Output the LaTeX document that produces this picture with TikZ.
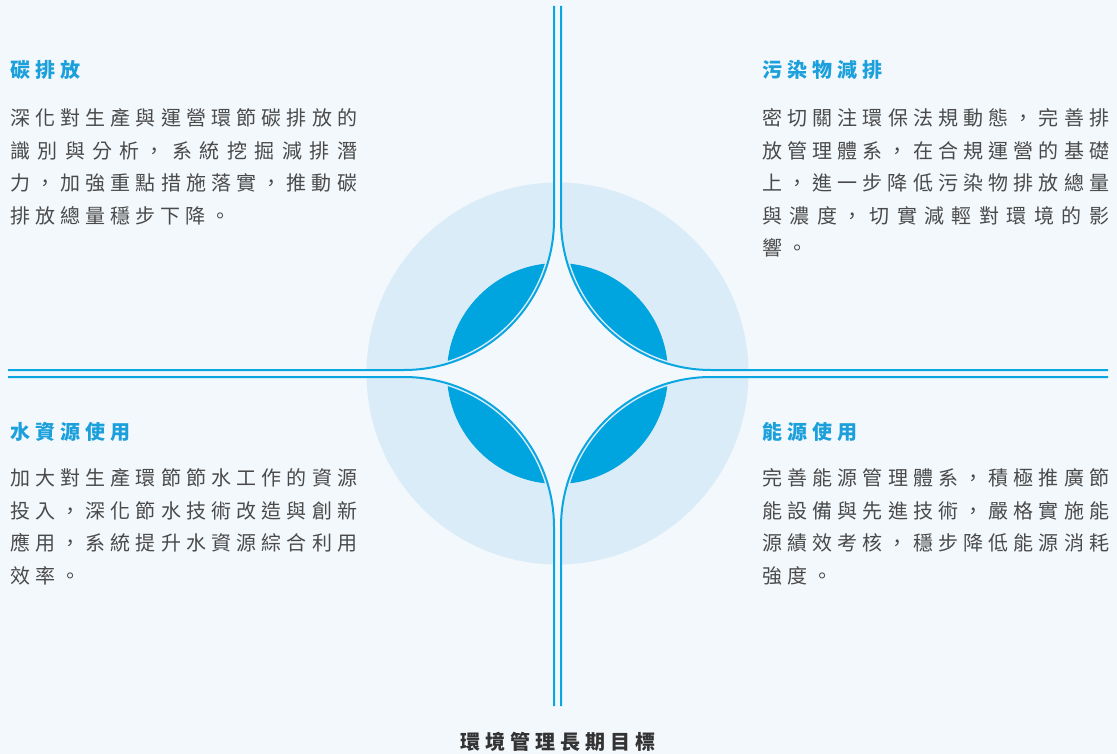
\documentclass[tikz,border=0pt]{standalone}
\usepackage{fontspec}
\newfontfamily\cjk[LetterSpace=25]{Noto Sans CJK TC}
\XeTeXlinebreaklocale "zh"
\XeTeXlinebreakskip=5pt plus 2pt
\definecolor{bg}{HTML}{F3F8FC}
\definecolor{ring}{HTML}{DBECF9}
\definecolor{core}{HTML}{00A4DF}
\definecolor{lineblue}{HTML}{0AA6E1}
\definecolor{head}{HTML}{1BA0DC}
\definecolor{bodytext}{HTML}{4A4A4A}
\definecolor{goal}{HTML}{333333}
\newcommand{\starpath}[1]{%
  ({404+#1},220) arc[start angle=0,end angle=90,radius=#1]
  -- (404,{527-#1}) arc[start angle=-90,end angle=0,radius=#1]
  -- ({711-#1},527) arc[start angle=180,end angle=270,radius=#1]
  -- (711,{220+#1}) arc[start angle=90,end angle=180,radius=#1]
  -- cycle}
\tikzset{
  heading/.style={anchor=base west, inner sep=0pt, text=head, font=\cjk\bfseries\fontsize{20}{32}\selectfont},
  para/.style={anchor=base west, inner sep=0pt, text=bodytext, text width=347pt, align=justify, font=\cjk\fontsize{20}{32.5}\selectfont},
  goaltitle/.style={anchor=base, inner sep=0pt, text=goal, font=\cjk\bfseries\fontsize{20}{24}\selectfont},
  guide/.style={draw=lineblue, line width=2pt}
}
\begin{document}
\begin{tikzpicture}[x=1pt,y=-1pt]
\useasboundingbox (0,0) rectangle (1117,754);
\fill[bg] (0,0) rectangle (1117,754);
% rings
\fill[ring] (557.5,373.5) circle[radius=191];
\fill[core] (557.5,373.5) circle[radius=110.5];
\fill[ring] \starpath{147.5};
\fill[bg] \starpath{150};
\fill[bg] (554,0) rectangle (561,754);
\fill[bg] (0,370) rectangle (1117,377);
% guide lines
\coordinate (tlA) at (554,6);
\coordinate (tlB) at (8,370);
\coordinate (trA) at (561,6);
\coordinate (trB) at (1108,370);
\coordinate (blA) at (8,377);
\coordinate (blB) at (554,706);
\coordinate (brA) at (1108,377);
\coordinate (brB) at (561,706);
\draw[guide] (tlA) -- (554,220) arc[start angle=0,end angle=90,radius=150] -- (tlB);
\draw[guide] (trA) -- (561,220) arc[start angle=180,end angle=90,radius=150] -- (trB);
\draw[guide] (blA) -- (404,377) arc[start angle=-90,end angle=0,radius=150] -- (blB);
\draw[guide] (brA) -- (711,377) arc[start angle=-90,end angle=-180,radius=150] -- (brB);
% texts
\node[heading] (tlh) at (10,77.6) {碳排放};
\node[para] (tlp) at (10,125.6) {深化對生產與運營環節碳排放的\linebreak 識別與分析，系統挖掘減排潛\linebreak 力，加強重點措施落實，推動碳\linebreak 排放總量穩步下降。};
\node[heading] (trh) at (762,77.6) {污染物減排};
\node[para] (trp) at (762,125.6) {密切關注環保法規動態，完善排\linebreak 放管理體系，在合規運營的基礎\linebreak 上，進一步降低污染物排放總量\linebreak 與濃度，切實減輕對環境的影\linebreak 響。};
\node[heading] (blh) at (10,439.6) {水資源使用};
\node[para] (blp) at (10,485.6) {加大對生產環節節水工作的資源\linebreak 投入，深化節水技術改造與創新\linebreak 應用，系統提升水資源綜合利用\linebreak 效率。};
\node[heading] (brh) at (762,439.6) {能源使用};
\node[para] (brp) at (762,485.6) {完善能源管理體系，積極推廣節\linebreak 能設備與先進技術，嚴格實施能\linebreak 源績效考核，穩步降低能源消耗\linebreak 強度。};
\node[goaltitle] (goal) at (558,749) {環境管理長期目標};
\end{tikzpicture}
\end{document}
